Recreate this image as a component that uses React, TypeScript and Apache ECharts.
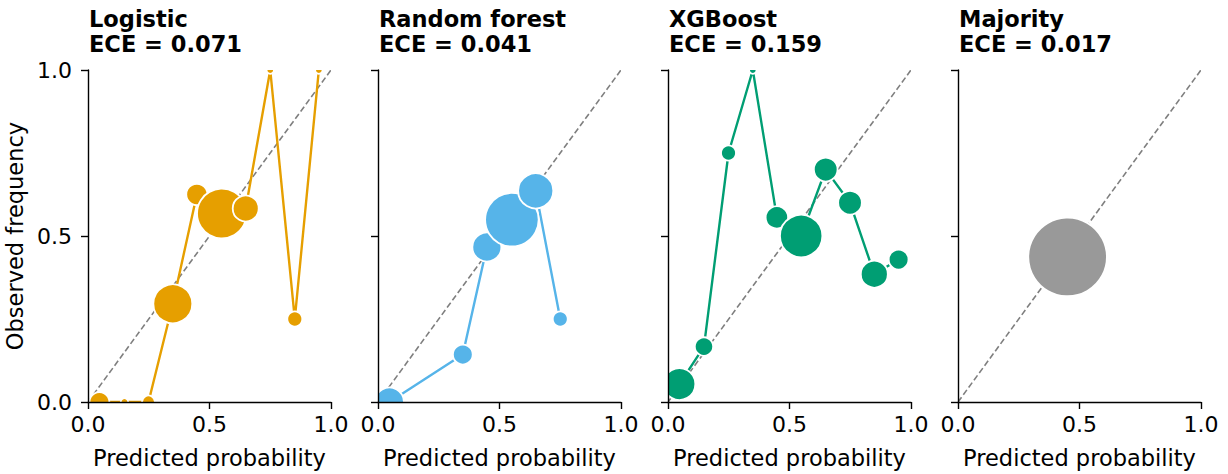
import React, { useEffect, useRef } from "react";
import * as echarts from "echarts";

const FONT = "DejaVu Sans";

const panelTitles = ["Logistic", "Random forest", "XGBoost", "Majority"];
const eceValues = ["0.071", "0.041", "0.159", "0.017"];
const panelColors = ["#E69F00", "#56B4E9", "#009E73", "#999999"];
const tickValues = [0, 0.5, 1];

const logisticX = [0.047, 0.15, 0.249, 0.349, 0.448, 0.551, 0.649, 0.75, 0.851, 0.95];
const logisticY = [0, 0, 0, 0.296, 0.625, 0.568, 0.583, 1, 0.25, 1];
const logisticN = [7, 1, 3, 27, 8, 44, 12, 1, 4, 1];

const forestX = [0.047, 0.349, 0.448, 0.551, 0.649, 0.75];
const forestY = [0, 0.143, 0.467, 0.549, 0.636, 0.25];
const forestN = [15, 7, 15, 51, 22, 4];

const xgbX = [0.047, 0.148, 0.249, 0.349, 0.448, 0.548, 0.649, 0.749, 0.849, 0.949];
const xgbY = [0.054, 0.167, 0.75, 1, 0.556, 0.5, 0.7, 0.6, 0.385, 0.429];
const xgbN = [18, 6, 4, 1, 9, 32, 10, 10, 13, 7];

const majorityX = [0.451];
const majorityY = [0.437];
const majorityN = [110];

const panelX = [logisticX, forestX, xgbX, majorityX];
const panelY = [logisticY, forestY, xgbY, majorityY];
const panelN = [logisticN, forestN, xgbN, majorityN];

const GRID_LEFT = 88;
const GRID_STEP = 290;
const GRID_W = 243;
const GRID_TOP = 70;
const GRID_H = 332;
const RADIUS_SCALE = 3.75;

export default function App() {
  const ref = useRef<HTMLDivElement>(null);
  useEffect(() => {
    if (!ref.current) return;
    const chart = echarts.init(ref.current, null, { renderer: "svg" });
    const grids: any[] = [];
    const xAxes: any[] = [];
    const yAxes: any[] = [];
    const series: any[] = [];
    const titles: any[] = [];
    const graphics: any[] = [];
    for (let i = 0; i < 4; i++) {
      const left = GRID_LEFT + GRID_STEP * i;
      grids.push({ left, top: GRID_TOP, width: GRID_W, height: GRID_H });
      const axisCommon = {
        gridIndex: i,
        type: "value",
        min: 0,
        max: 1,
        interval: 0.5,
        z: 10,
        splitLine: { show: false },
        axisLine: { show: true, onZero: false, lineStyle: { color: "#000", width: 1.4 } },
        axisTick: { show: true, length: 7, lineStyle: { color: "#000", width: 1.4 } },
      };
      xAxes.push({
        ...axisCommon,
        name: "Predicted probability",
        nameLocation: "middle",
        nameGap: 44,
        nameTextStyle: { fontFamily: FONT, fontSize: 22.5, color: "#000" },
        axisLabel: {
          fontFamily: FONT,
          fontSize: 22,
          color: "#000",
          margin: 11,
          formatter: (v: number) => v.toFixed(1),
        },
      });
      yAxes.push({
        ...axisCommon,
        name: i === 0 ? "Observed frequency" : "",
        nameLocation: "middle",
        nameGap: 62,
        nameTextStyle: { fontFamily: FONT, fontSize: 22.5, color: "#000" },
        axisLabel: {
          show: i === 0,
          fontFamily: FONT,
          fontSize: 22,
          color: "#000",
          margin: 16,
          formatter: (v: number) => v.toFixed(1),
        },
      });
      titles.push({
        text: panelTitles[i] + "\nECE = " + eceValues[i],
        left: left + 1,
        top: 6,
        padding: 0,
        z: 20,
        textStyle: {
          fontFamily: FONT,
          fontSize: 22.5,
          fontWeight: "bold",
          lineHeight: 25,
          color: "#000",
        },
      });
      series.push({
        type: "line",
        xAxisIndex: i,
        yAxisIndex: i,
        data: [
          [tickValues[0], tickValues[0]],
          [tickValues[2], tickValues[2]],
        ],
        showSymbol: false,
        symbol: "none",
        silent: true,
        z: 1,
        lineStyle: { color: "#7f7f7f", width: 1.6, type: [6, 3] },
      });
      const pts = panelX[i].map((x, k) => [x, panelY[i][k], panelN[i][k]]);
      if (pts.length > 1) {
        series.push({
          type: "line",
          xAxisIndex: i,
          yAxisIndex: i,
          data: pts.map((p) => [p[0], p[1]]),
          showSymbol: false,
          symbol: "none",
          z: 2,
          lineStyle: { color: panelColors[i], width: 2.4 },
        });
      }
      series.push({
        type: "scatter",
        xAxisIndex: i,
        yAxisIndex: i,
        data: pts,
        z: 3,
        symbolSize: (v: number[]) => 2 * RADIUS_SCALE * Math.sqrt(v[2]),
        itemStyle: { color: panelColors[i], opacity: 1, borderColor: "#fff", borderWidth: 1.8 },
      });
      // white masks to clip markers to the plotting area
      const m = { type: "rect", z: 5, silent: true, style: { fill: "#fff" } };
      graphics.push({ ...m, shape: { x: left - 22, y: 40, width: 22, height: 390 } });
      graphics.push({ ...m, shape: { x: left + GRID_W, y: 40, width: 22, height: 390 } });
      graphics.push({ ...m, shape: { x: left - 22, y: 55, width: GRID_W + 44, height: GRID_TOP - 55 } });
      graphics.push({ ...m, shape: { x: left - 22, y: GRID_TOP + GRID_H, width: GRID_W + 44, height: 18 } });
    }
    chart.setOption({
      animation: false,
      backgroundColor: "#fff",
      title: titles,
      grid: grids,
      xAxis: xAxes,
      yAxis: yAxes,
      series,
      graphic: graphics,
    });
    return () => chart.dispose();
  }, []);
  return (
    <div
      ref={ref}
      style={{ position: "fixed", left: 0, top: 0, width: 1228, height: 474 }}
    />
  );
}
